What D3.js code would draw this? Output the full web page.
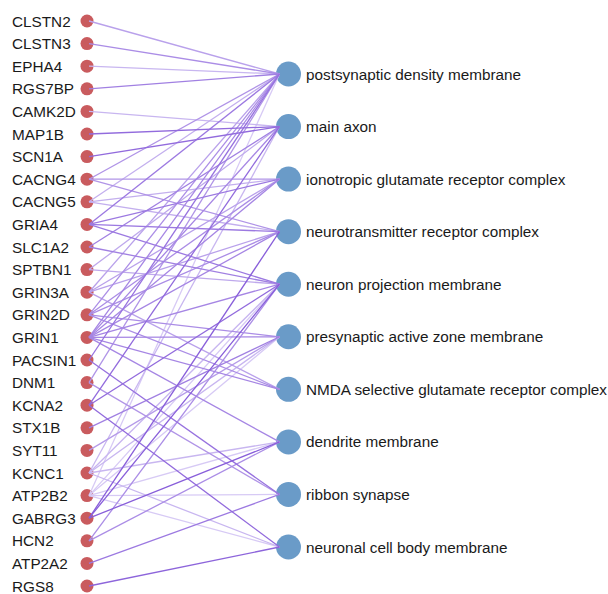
<!DOCTYPE html>
<html>
<head>
<meta charset="utf-8">
<script src="https://cdn.jsdelivr.net/npm/d3@7"></script>
<style>
  html, body { margin: 0; padding: 0; background: #fff; }
  svg { display: block; }
  text { font-family: "Liberation Sans", Arial, sans-serif; fill: #1a1a1a; }
</style>
</head>
<body>
<svg id="chart" width="608" height="594"></svg>
<script>
// Genes (left column), top to bottom
const genes = ["CLSTN2","CLSTN3","EPHA4","RGS7BP","CAMK2D","MAP1B","SCN1A","CACNG4","CACNG5","GRIA4",
  "SLC1A2","SPTBN1","GRIN3A","GRIN2D","GRIN1","PACSIN1","DNM1","KCNA2","STX1B","SYT11",
  "KCNC1","ATP2B2","GABRG3","HCN2","ATP2A2","RGS8"];

// Per-gene score used for edge colour intensity
const geneScore = [0.45,0.6,0.3,0.7,0.3,0.85,0.85,0.55,0.35,0.75,
  0.7,0.4,0.45,0.6,0.65,0.8,0.55,0.85,0.7,0.5,
  0.3,0.15,0.95,0.6,0.75,0.9];

// GO cellular component terms (right column), top to bottom
const terms = ["postsynaptic density membrane","main axon","ionotropic glutamate receptor complex",
  "neurotransmitter receptor complex","neuron projection membrane","presynaptic active zone membrane",
  "NMDA selective glutamate receptor complex","dendrite membrane","ribbon synapse","neuronal cell body membrane"];

// Genes annotated to each term, in term order
const termGenes = [
  ["CLSTN2","CLSTN3","EPHA4","RGS7BP","CACNG4","CACNG5","GRIA4","GRIN3A","GRIN2D","GRIN1","PACSIN1","DNM1","ATP2B2"],
  ["CAMK2D","MAP1B","SCN1A","SLC1A2","SPTBN1","GRIN1","KCNA2","KCNC1"],
  ["CACNG4","CACNG5","GRIA4","GRIN3A","GRIN2D","GRIN1"],
  ["CACNG4","CACNG5","GRIA4","GRIN3A","GRIN2D","GRIN1","GABRG3"],
  ["GRIA4","SLC1A2","SPTBN1","GRIN1","KCNA2","KCNC1","ATP2B2","GABRG3","HCN2"],
  ["GRIN2D","GRIN1","STX1B","SYT11","KCNC1","ATP2B2"],
  ["GRIN3A","GRIN2D","GRIN1"],
  ["GRIN1","KCNC1","ATP2B2","GABRG3","HCN2"],
  ["PACSIN1","DNM1","ATP2B2","ATP2A2"],
  ["KCNA2","KCNC1","ATP2B2","RGS8"]
];

const svg = d3.select("#chart");

const geneX = 87, termX = 288.5;
const yGene = d3.scalePoint().domain(genes).range([21, 586]);
const yTerm = d3.scalePoint().domain(terms).range([74, 547]);
const edgeColor = d3.scaleLinear().domain([0, 1]).range(["#e6defa", "#8357d8"]);

const scoreOf = new Map(genes.map((g, i) => [g, geneScore[i]]));
const links = [];
terms.forEach((t, i) => termGenes[i].forEach(g => links.push({ gene: g, term: t })));

// Gene nodes
svg.append("g").selectAll("circle").data(genes).join("circle")
  .attr("cx", geneX).attr("cy", d => yGene(d)).attr("r", 6.5)
  .attr("fill", "#c95b5e");

// Term nodes
svg.append("g").selectAll("circle").data(terms).join("circle")
  .attr("cx", termX).attr("cy", d => yTerm(d)).attr("r", 12.5)
  .attr("fill", "#6a9bc8");

// Edges, light ones underneath
svg.append("g").selectAll("line")
  .data(links.slice().sort((a, b) => scoreOf.get(a.gene) - scoreOf.get(b.gene)))
  .join("line")
  .attr("x1", geneX + 2).attr("y1", d => yGene(d.gene))
  .attr("x2", termX - 9).attr("y2", d => yTerm(d.term))
  .attr("stroke", d => edgeColor(scoreOf.get(d.gene)))
  .attr("stroke-width", 1.3);

// Labels
svg.append("g").selectAll("text").data(genes).join("text")
  .attr("x", 12).attr("y", d => yGene(d)).attr("dy", "0.36em")
  .attr("font-size", 15.3).text(d => d);

svg.append("g").selectAll("text").data(terms).join("text")
  .attr("x", 306).attr("y", d => yTerm(d)).attr("dy", "0.36em")
  .attr("font-size", 15.3).text(d => d);
</script>
</body>
</html>
